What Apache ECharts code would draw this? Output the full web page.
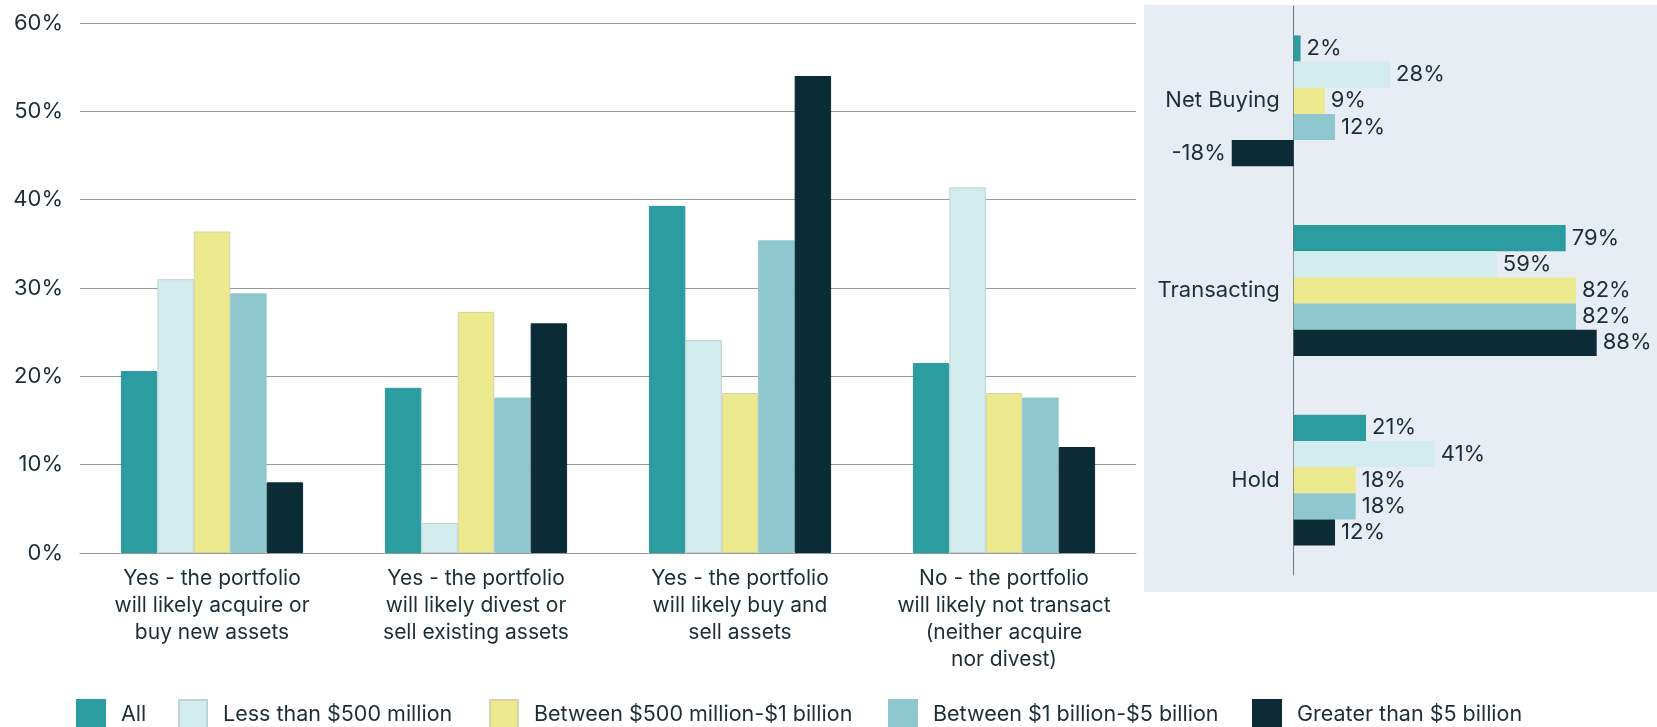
<!DOCTYPE html>
<html>
<head>
<meta charset="utf-8">
<title>Portfolio transaction intentions</title>
<script src="https://cdn.jsdelivr.net/npm/echarts@6/dist/echarts.min.js"></script>
<style>
  html, body { margin: 0; padding: 0; background: #ffffff; }
  #chart { width: 1657px; height: 727px; }
</style>
</head>
<body>
<div id="chart"></div>
<script>
// Survey answers (left panel, % of respondents)
const intentCategories = [
  'Yes - the portfolio\nwill likely acquire or\nbuy new assets',
  'Yes - the portfolio\nwill likely divest or\nsell existing assets',
  'Yes - the portfolio\nwill likely buy and\nsell assets',
  'No - the portfolio\nwill likely not transact\n(neither acquire\nnor divest)'
];
const seriesNames = [
  'All',
  'Less than $500 million',
  'Between $500 million-$1 billion',
  'Between $1 billion-$5 billion',
  'Greater than $5 billion'
];
const intentAll     = [20.6, 18.7, 39.3, 21.5];
const intentUnder500 = [31.0, 3.4, 24.1, 41.4];
const intent500to1B = [36.4, 27.3, 18.1, 18.1];
const intent1to5B   = [29.4, 17.6, 35.4, 17.6];
const intentOver5B  = [8.0, 26.0, 54.0, 12.0];

// Summary measures (right panel, %)
const summaryCategories = ['Net Buying', 'Transacting', 'Hold'];
const summaryAll      = [2, 79, 21];
const summaryUnder500 = [28, 59, 41];
const summary500to1B  = [9, 82, 18];
const summary1to5B    = [12, 82, 18];
const summaryOver5B   = [-18, 88, 12];

const yTicks = [0, 10, 20, 30, 40, 50, 60];

const intentData = [intentAll, intentUnder500, intent500to1B, intent1to5B, intentOver5B];
const summaryData = [summaryAll, summaryUnder500, summary500to1B, summary1to5B, summaryOver5B];

const colors = ['#2b9ca0', '#d3ecee', '#ece98f', '#8fc7cf', '#0b2c37'];
const borders = ['#2b9ca0', '#bfd2d4', '#d6d3a4', '#8fc7cf', '#0b2c37'];
const textColor = '#1e2e35';
const fontFamily = 'Inter, "Liberation Sans", sans-serif';

// Right panel value range; category labels sit just left of the zero line
const summaryMin = -40;
const summaryMax = 100;
const summaryGridLeft = 1156;
const summaryGridWidth = 482;
const zeroX = summaryGridLeft + summaryGridWidth * (0 - summaryMin) / (summaryMax - summaryMin);

const series = [];
seriesNames.forEach((name, i) => {
  series.push({
    name: name,
    type: 'bar',
    xAxisIndex: 0,
    yAxisIndex: 0,
    data: intentData[i],
    barGap: '0%',
    barCategoryGap: '31%',
    itemStyle: { color: colors[i], borderColor: borders[i], borderWidth: 1 },
    emphasis: { disabled: true }
  });
});
seriesNames.forEach((name, i) => {
  series.push({
    name: name,
    type: 'bar',
    xAxisIndex: 1,
    yAxisIndex: 1,
    data: summaryData[i].map(v => v < 0
      ? { value: v, label: { position: 'left' } }
      : v),
    barGap: '0%',
    barCategoryGap: '31%',
    itemStyle: { color: colors[i] },
    label: {
      show: true,
      position: 'right',
      distance: 6,
      formatter: p => p.value + '%',
      fontSize: 22,
      fontFamily: fontFamily,
      color: textColor
    },
    emphasis: { disabled: true }
  });
});

// One legend block per series so each entry sits at its own spot
const legendLefts = [76, 178, 489, 888, 1252];
const legends = seriesNames.map((name, i) => ({
  data: [name],
  left: legendLefts[i],
  top: 699,
  padding: 0,
  itemWidth: 28,
  itemHeight: 30,
  icon: 'rect',
  selectedMode: false,
  textStyle: {
    fontSize: 21.5,
    fontFamily: fontFamily,
    color: textColor,
    padding: [0, 0, 0, 11]
  }
}));

const option = {
  animation: false,
  backgroundColor: '#ffffff',
  textStyle: { fontFamily: fontFamily },
  graphic: [{
    type: 'rect',
    z: -10,
    shape: { x: 1144, y: 5, width: 513, height: 587 },
    style: { fill: '#e8edf3' },
    silent: true
  }],
  legend: legends,
  grid: [
    { left: 80, top: 23, width: 1056, height: 530 },
    { left: summaryGridLeft, top: 6, width: summaryGridWidth, height: 569 }
  ],
  xAxis: [
    {
      type: 'category',
      gridIndex: 0,
      data: intentCategories,
      axisLine: { show: true, lineStyle: { color: '#999999', width: 1 } },
      axisTick: { show: false },
      axisLabel: {
        interval: 0,
        margin: 12,
        fontSize: 21,
        lineHeight: 27,
        fontFamily: fontFamily,
        color: textColor,
        align: 'center'
      }
    },
    {
      type: 'value',
      gridIndex: 1,
      min: summaryMin,
      max: summaryMax,
      show: false
    }
  ],
  yAxis: [
    {
      type: 'value',
      gridIndex: 0,
      min: yTicks[0],
      max: yTicks[yTicks.length - 1],
      interval: 10,
      axisLine: { show: false },
      axisTick: { show: false },
      splitLine: { lineStyle: { color: '#999999', width: 1 } },
      axisLabel: {
        formatter: '{value}%',
        margin: 17,
        fontSize: 22,
        fontFamily: fontFamily,
        color: textColor
      }
    },
    {
      type: 'category',
      gridIndex: 1,
      inverse: true,
      data: summaryCategories,
      axisLine: { show: true, onZero: true, lineStyle: { color: '#6f7a80', width: 1 } },
      axisTick: { show: false },
      axisLabel: {
        margin: 14 - (zeroX - summaryGridLeft),
        fontSize: 22,
        fontFamily: fontFamily,
        color: textColor
      }
    }
  ],
  series: series
};

const chart = echarts.init(document.getElementById('chart'), null, { renderer: 'canvas' });
chart.setOption(option);
</script>
</body>
</html>
